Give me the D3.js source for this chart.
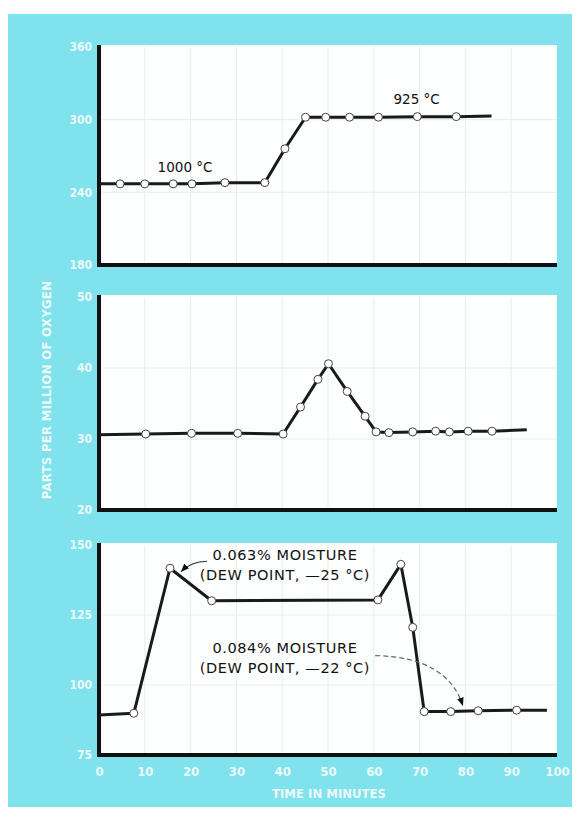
<!DOCTYPE html>
<html>
<head>
<meta charset="utf-8">
<script src="https://cdn.jsdelivr.net/npm/d3@7"></script>
<style>
body { margin: 0; background: #fff; }
</style>
</head>
<body>
<script>
var width = 581, height = 817;

// panel 1 : furnace at 1000 C then 925 C
var minutes1 = [0, 4.6, 10, 16.2, 20.3, 27.5, 36.2, 40.6, 45.1, 49.5, 54.7, 61, 69.5, 78, 85.7];
var ppm1 = [247, 247, 247, 247, 247, 248, 248, 276, 302, 302, 302, 302, 302.5, 302.5, 303];
var ticks1 = [180, 240, 300, 360];

// panel 2
var minutes2 = [0, 10.2, 20.2, 30.3, 40.2, 44, 47.8, 50.1, 54.2, 58.1, 60.5, 63.3, 68.5, 73.5, 76.5, 80.6, 85.8, 93.4];
var ppm2 = [30.6, 30.7, 30.8, 30.8, 30.7, 34.5, 38.4, 40.6, 36.7, 33.2, 31, 30.9, 31, 31.1, 31, 31.1, 31.1, 31.3];
var ticks2 = [20, 30, 40, 50];

// panel 3 : moisture
var minutes3 = [0, 7.6, 15.5, 24.6, 60.9, 65.9, 68.5, 71, 76.8, 82.8, 91.2, 97.8];
var ppm3 = [89.3, 89.9, 141.7, 130.1, 130.4, 143.1, 120.6, 90.5, 90.5, 90.8, 91, 91];
var ticks3 = [75, 100, 125, 150];

var timeTicks = [0, 10, 20, 30, 40, 50, 60, 70, 80, 90, 100];
var labels1 = ["1000 °C", "925 °C"];
var notes3 = [["0.063% MOISTURE", "(DEW POINT, \u201425 °C)"], ["0.084% MOISTURE", "(DEW POINT, \u201422 °C)"]];

var svg = d3.select("body").append("svg")
  .attr("width", width)
  .attr("height", height);

svg.append("rect")
  .attr("x", 8).attr("y", 14)
  .attr("width", 564).attr("height", 793)
  .attr("fill", "#80e2ec");

var x = d3.scaleLinear().domain([0, 100]).range([99, 557]);

var tickFont = "'DejaVu Sans Condensed', 'Liberation Sans Narrow', sans-serif";
var noteFont = "'DejaVu Sans', sans-serif";

function panel(top, bottom, domain, ticks, mins, vals) {
  var y = d3.scaleLinear().domain(domain).range([bottom, top]);
  var g = svg.append("g");

  g.append("rect")
    .attr("x", x(0)).attr("y", top - 2)
    .attr("width", x(100) - x(0)).attr("height", bottom - top + 2)
    .attr("fill", "#fdfefe");

  // faint grid
  g.selectAll(".vg").data(timeTicks.slice(1, -1)).enter().append("line")
    .attr("x1", d => x(d)).attr("x2", d => x(d))
    .attr("y1", top).attr("y2", bottom)
    .attr("stroke", "#e6eeee").attr("stroke-width", 1);
  g.selectAll(".hg").data(ticks.slice(1, -1)).enter().append("line")
    .attr("x1", x(0)).attr("x2", x(100))
    .attr("y1", d => y(d)).attr("y2", d => y(d))
    .attr("stroke", "#e6eeee").attr("stroke-width", 1);

  var ya = g.append("g")
    .attr("transform", "translate(" + x(0) + ",0)")
    .call(d3.axisLeft(y).tickValues(ticks).tickSize(0).tickPadding(7));
  ya.select(".domain").remove();
  ya.selectAll("text")
    .attr("fill", "#fff").attr("font-size", 12).attr("font-weight", "bold")
    .attr("font-family", tickFont).attr("opacity", 0.85);

  // axes lines
  g.append("line")
    .attr("x1", x(0)).attr("x2", x(0))
    .attr("y1", top - 2).attr("y2", bottom + 1.5)
    .attr("stroke", "#111").attr("stroke-width", 4);
  g.append("line")
    .attr("x1", x(0) - 2).attr("x2", x(100))
    .attr("y1", bottom).attr("y2", bottom)
    .attr("stroke", "#111").attr("stroke-width", 4);

  var data = mins.map((m, i) => [m, vals[i]]);
  g.append("path")
    .datum(data)
    .attr("d", d3.line().x(d => x(d[0])).y(d => y(d[1])))
    .attr("fill", "none")
    .attr("stroke", "#1a1a1a")
    .attr("stroke-width", 3)
    .attr("stroke-linejoin", "round");

  g.selectAll(".pt").data(data.slice(1, -1)).enter().append("circle")
    .attr("cx", d => x(d[0])).attr("cy", d => y(d[1]))
    .attr("r", 4)
    .attr("fill", "#fff")
    .attr("stroke", "#444").attr("stroke-width", 1);

  return y;
}

var y1 = panel(47, 265, [180, 360], ticks1, minutes1, ppm1);
var y2 = panel(297, 510, [20, 50], ticks2, minutes2, ppm2);
var y3 = panel(545, 755, [75, 150], ticks3, minutes3, ppm3);

// temperature labels
svg.append("text").attr("x", x(12.8)).attr("y", y1(257))
  .attr("font-family", noteFont).attr("font-size", 13.5).attr("fill", "#111").text(labels1[0]);
svg.append("text").attr("x", x(64.3)).attr("y", y1(313))
  .attr("font-family", noteFont).attr("font-size", 13.5).attr("fill", "#111").text(labels1[1]);

// moisture notes
function note(lines, m, v1, v2) {
  var t = svg.append("text")
    .attr("font-family", noteFont).attr("font-size", 14.5)
    .attr("fill", "#111").attr("text-anchor", "middle")
    .attr("letter-spacing", 0.6);
  t.append("tspan").attr("x", x(m)).attr("y", y3(v1)).text(lines[0]);
  t.append("tspan").attr("x", x(m)).attr("y", y3(v2)).text(lines[1]);
}
note(notes3[0], 40.6, 144.6, 137.5);
note(notes3[1], 40.6, 111.4, 104.3);

svg.append("defs").append("marker")
  .attr("id", "ah").attr("viewBox", "0 0 10 10")
  .attr("refX", 9).attr("refY", 5)
  .attr("markerWidth", 7).attr("markerHeight", 7)
  .attr("orient", "auto")
  .append("path").attr("d", "M0,1 L10,5 L0,9 Z").attr("fill", "#111");

svg.append("path")
  .attr("d", "M" + x(23.6) + "," + y3(144.2) + " Q" + x(20) + "," + y3(144) + " " + x(18) + "," + y3(140.6))
  .attr("fill", "none").attr("stroke", "#333").attr("stroke-width", 1.2)
  .attr("marker-end", "url(#ah)");

svg.append("path")
  .attr("d", "M" + x(60.3) + "," + y3(110.5) + " Q" + x(76) + "," + y3(110) + " " + x(79.4) + "," + y3(92.8))
  .attr("fill", "none").attr("stroke", "#666").attr("stroke-width", 1.2)
  .attr("stroke-dasharray", "5,3")
  .attr("marker-end", "url(#ah)");

// time axis
var xa = svg.append("g")
  .attr("transform", "translate(0,755)")
  .call(d3.axisBottom(x).tickValues(timeTicks).tickSize(0).tickPadding(12));
xa.select(".domain").remove();
xa.selectAll("text")
  .attr("fill", "#fff").attr("font-size", 13).attr("font-weight", "bold")
  .attr("font-family", tickFont).attr("opacity", 0.85);

svg.append("text")
  .attr("x", 329).attr("y", 798)
  .attr("text-anchor", "middle")
  .attr("font-family", tickFont).attr("font-size", 13).attr("font-weight", "bold")
  .attr("fill", "#fff").attr("opacity", 0.85)
  .text("TIME IN MINUTES");

svg.append("text")
  .attr("transform", "translate(51,390) rotate(-90)")
  .attr("text-anchor", "middle")
  .attr("font-family", tickFont).attr("font-size", 13).attr("font-weight", "bold")
  .attr("letter-spacing", 0.3)
  .attr("fill", "#fff").attr("opacity", 0.85)
  .text("PARTS PER MILLION OF OXYGEN");
</script>
</body>
</html>
